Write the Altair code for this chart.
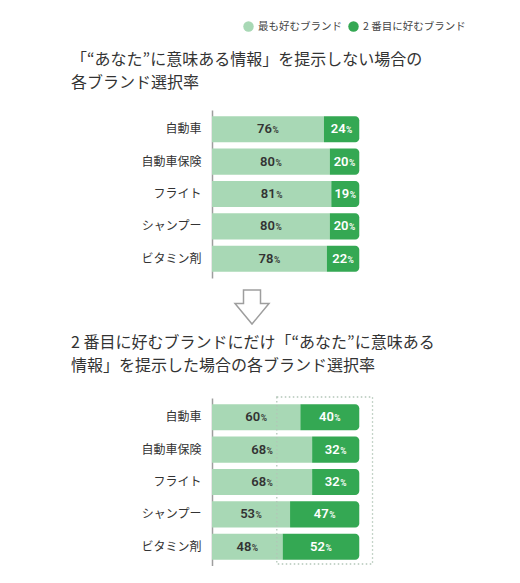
import altair as alt
import pandas as pd

categories = ["自動車", "自動車保険", "フライト", "シャンプー", "ビタミン剤"]
series = ["最も好むブランド", "2 番目に好むブランド"]

before_first = [76, 80, 81, 80, 78]
before_second = [24, 20, 19, 20, 22]
after_first = [60, 68, 68, 53, 48]
after_second = [40, 32, 32, 47, 52]

title_before = ["「“あなた”に意味ある情報」を提示しない場合の", "各ブランド選択率"]
title_after = ["2 番目に好むブランドにだけ「“あなた”に意味ある", "情報」を提示した場合の各ブランド選択率"]

# highlighted span in the lower chart (same scale as the bars)
box_range = [44, 109]

LIGHT = "#a8d8b5"
DARK = "#34a853"
JP_FONT = "Noto Sans CJK JP"
W = 162
H = 168
ARROW_PATH = "M-0.5,-1 L0.5,-1 L0.5,-0.2 L1,-0.2 L0,1 L-1,-0.2 L-0.5,-0.2 Z"


def build_frame(first, second):
    rows = []
    for cat, a, b in zip(categories, first, second):
        rows.append(dict(category=cat, series=series[0], s=0, start=0, end=a, value=a))
        rows.append(dict(category=cat, series=series[1], s=1, start=a, end=a + b, value=b))
    df = pd.DataFrame(rows)
    df["mid"] = (df["start"] + df["end"]) / 2
    return df


# shared legend, placed relative to the upper plot area
legend = alt.Legend(orient="none", legendX=31, legendY=-89, direction="horizontal",
                    title=None, symbolType="circle", symbolSize=110, symbolStrokeWidth=0,
                    labelFont=JP_FONT, labelFontSize=10.5, labelColor="#444444",
                    labelOffset=4, columnPadding=6, padding=0)


def make_panel(first, second, title_lines, offset, box=None):
    df = build_frame(first, second)
    x_scale = alt.Scale(domain=[0, 110])
    y = alt.Y("category:N", sort=categories, title=None,
              scale=alt.Scale(paddingInner=0.19, paddingOuter=0.19),
              axis=alt.Axis(domainColor="#9e9e9e", domainWidth=1.5, ticks=False,
                            labelPadding=11, labelFontSize=12, labelColor="#333333",
                            labelFont=JP_FONT, grid=False))
    color = alt.Color("series:N", scale=alt.Scale(domain=series, range=[LIGHT, DARK]),
                      legend=legend)
    base = alt.Chart(df).encode(y=y)

    light = base.transform_filter(alt.datum.s == 0).mark_bar().encode(
        x=alt.X("start:Q", scale=x_scale, axis=None), x2="end:Q", color=color)
    dark = base.transform_filter(alt.datum.s == 1).mark_bar(
        cornerRadiusTopRight=4, cornerRadiusBottomRight=4).encode(
        x=alt.X("start:Q", scale=x_scale, axis=None), x2="end:Q", color=color)

    text_color = alt.when(alt.datum.s == 1).then(alt.value("white")).otherwise(alt.value("#333333"))
    nums = base.mark_text(align="right", baseline="middle", dx=4, fontSize=13,
                          font="Roboto", fontWeight=600).encode(
        x=alt.X("mid:Q", scale=x_scale), text=alt.Text("value:Q"), color=text_color)
    pct = base.mark_text(align="left", baseline="middle", dx=4.5, dy=1, fontSize=8.5,
                         font="Roboto", fontWeight=600).encode(
        x=alt.X("mid:Q", scale=x_scale), text=alt.value("%"), color=text_color)

    layers = [light, dark, nums, pct]
    if box is not None:
        box_df = pd.DataFrame({"x0": [box[0]], "x1": [box[1]]})
        frame = alt.Chart(box_df).mark_rect(fillOpacity=0, stroke="#b3c6b8", strokeWidth=1.3,
                                            strokeDash=[1.5, 2.5]).encode(
            x=alt.X("x0:Q", scale=x_scale), x2="x1:Q",
            y=alt.value(-1), y2=alt.value(H - 2))
        layers.append(frame)

    return alt.layer(*layers).properties(
        width=W, height=H,
        title=alt.TitleParams(text=title_lines, anchor="start", frame="bounds",
                              fontSize=16, font=JP_FONT, fontWeight="normal",
                              color="#333333", lineHeight=23, offset=offset, dx=-70))


top = make_panel(before_first, before_second, title_before, 19)
bottom = make_panel(after_first, after_second, title_after, 22, box=box_range)

arrow = alt.Chart(pd.DataFrame({"a": [0]})).mark_point(
    shape=ARROW_PATH, filled=False, stroke="#9e9e9e", strokeWidth=1.5,
    size=1156, opacity=1).encode(
    x=alt.value(40), y=alt.value(23)).properties(width=W, height=45)

chart = alt.vconcat(top, arrow, bottom, spacing=6).properties(
    padding={"top": 13, "left": 62, "right": 0, "bottom": 0}
).configure_view(stroke=None)

chart.save("out.html", embed_options={"renderer": "svg", "actions": False})
